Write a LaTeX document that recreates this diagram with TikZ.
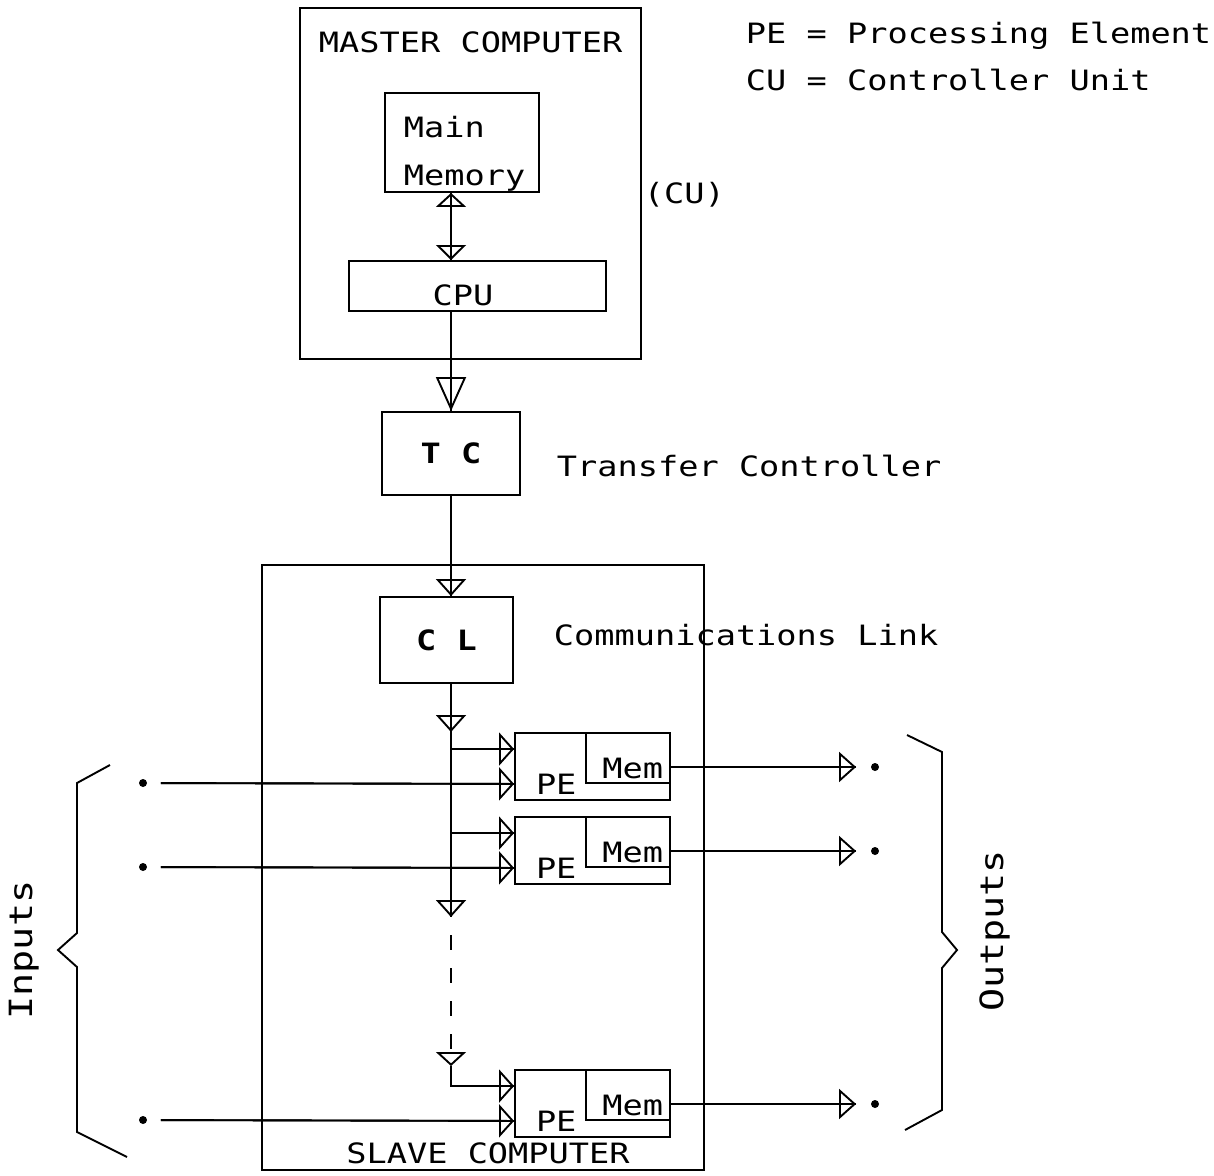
\documentclass[tikz,border=0pt]{standalone}
\usepackage{fontspec}
\usepackage{tikz}
\usetikzlibrary{arrows.meta,positioning,calc}
\newfontfamily\plotfont{DejaVu Sans Mono}[FakeStretch=1.2]
\newcommand\plotsize[1]{\plotfont\fontsize{#1}{#1}\selectfont}

\begin{document}
\begin{tikzpicture}[x=1pt,y=-1pt,line width=1.9pt,
    box/.style={draw,inner sep=0pt,font=\plotsize{28}},
    txt/.style={inner sep=0pt,font=\plotsize{28}},
    flow/.style={preaction={draw,arrows=-},
      -{Triangle[open,length=#1,width=30pt,line width=1.9pt]}},
    pin/.style={preaction={draw,arrows=-},
      -{Triangle[open,length=15pt,width=33pt,line width=1.9pt]}},
    dot/.style={circle,fill,inner sep=0pt,minimum size=8pt}]
  \useasboundingbox (0,0) rectangle (1214,1175);
  \coordinate (spine) at (451,0);

  % master computer
  \node[box,minimum width=341pt,minimum height=351pt] (master) at (470.5,183.5) {};
  \node[txt,anchor=base west] at (318,52) {MASTER COMPUTER};
  \node[box,minimum width=154pt,minimum height=99pt] (memory) at (462,142.5) {};
  \node[txt,anchor=base west] at (403,137) {Main};
  \node[txt,anchor=base west] at (403,185) {Memory};
  \node[box,minimum width=257pt,minimum height=50pt] (cpu) at (477.5,286) {};
  \node[txt,anchor=base] at (463,305) {CPU};
  \node[txt,anchor=base west] at (643,203) {(CU)};
  \draw[preaction={draw,arrows=-},
    {Triangle[open,length=14pt,width=30pt,line width=1.9pt]}-{Triangle[open,length=15pt,width=30pt,line width=1.9pt]}]
    (memory.south -| spine) -- (cpu.north -| spine);

  % legend
  \node[txt,anchor=base west] at (745,43) {PE = Processing Element};
  \node[txt,anchor=base west] at (745,90) {CU = Controller Unit};

  % transfer controller, slave computer, link
  \node[box,minimum width=138pt,minimum height=83pt] (tc) at (451,453.5) {\bfseries T C};
  \node[txt,anchor=base west] at (556,476) {Transfer Controller};
  \node[box,minimum width=442pt,minimum height=605pt] (slave) at (483,867.5) {};
  \node[txt,anchor=base] at (488,1163) {SLAVE COMPUTER};
  \node[box,minimum width=133pt,minimum height=86pt] (cl) at (446.5,640) {\bfseries C L};
  \node[txt,anchor=base west] at (553,645) {Communications Link};
  \draw[flow=34pt] (cpu.south -| spine) -- (tc.north -| spine);
  \draw[flow=17pt] (tc.south -| spine) -- (cl.north -| spine);

  % processing elements
  \foreach \i/\t in {1/733,2/817,3/1070}{
    \node[box,minimum width=155pt,minimum height=67pt] (pe\i) at (592.5,\t+33.5) {};
    \node[box,minimum width=84pt,minimum height=50pt,anchor=north east] (mem\i) at (pe\i.north east) {};
    \node[txt,anchor=base west] at ($(pe\i.south west)+(21,-6)$) {PE};
    \node[txt,anchor=base east] at ($(mem\i.south east)+(-7,-5)$) {Mem};
    \coordinate (port\i) at ($(pe\i.north west)+(0,17)$);
    \coordinate (inport\i) at ($(pe\i.south west)+(0,-17)$);
    \node[dot] (in\i) at (143,\t+50) {};
    \node[dot] (out\i) at (875,\t+34) {};
    \draw[pin,shorten <=13pt] (in\i) -- (inport\i);
    \draw[flow=17pt,shorten >=14pt] ($(mem\i.east)+(0,9)$) -- (out\i);
  }

  % bus
  \coordinate (tap1) at (451,732);
  \coordinate (tap2) at (451,917);
  \coordinate (tap3) at (451,1066);
  \draw[flow=17pt] (cl.south -| spine) -- (tap1);
  \draw[flow=17pt] (tap1) -- (tap2);
  \draw[dash pattern=on 15pt off 18pt,dash phase=15pt,
    -{Triangle[open,length=14pt,width=30pt,line width=1.9pt]}] (tap2) -- (tap3);
  \draw[pin] (spine |- port1) -- (port1);
  \draw[pin] (spine |- port2) -- (port2);
  \draw[pin] (tap3) |- (port3);

  % braces
  \draw (110,765) -- (77,783) -- (77,933) -- (58,950) -- (77,967) -- (77,1132) -- (127,1157);
  \draw (907,735) -- (942,752) -- (942,932) -- (957,950) -- (942,968) -- (942,1110) -- (905,1130);
  \node[txt,font=\plotsize{32},rotate=90] at (24,950) {Inputs};
  \node[txt,font=\plotsize{32},rotate=90] at (995,931) {Outputs};
\end{tikzpicture}
\end{document}
